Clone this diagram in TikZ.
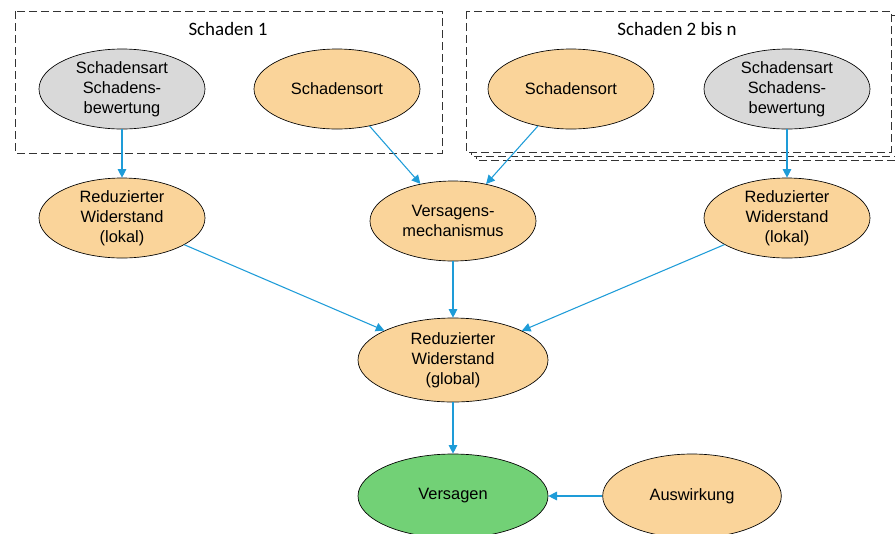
\documentclass[tikz,border=0pt]{standalone}
\usepackage{fontspec}
\setmainfont{Liberation Sans}
\newfontfamily\calib{Carlito}
\usetikzlibrary{shapes.geometric,arrows.meta}
\definecolor{orangefill}{HTML}{FAD49A}
\definecolor{grayfill}{HTML}{D9D9D9}
\definecolor{greenfill}{HTML}{72D176}
\definecolor{arrowblue}{HTML}{1E9CD8}
\tikzset{
  ell/.style={ellipse, draw=black, line width=0.5pt, inner sep=0pt, align=center,
    font=\fontsize{12.3}{15}\selectfont, minimum width=124.5pt, minimum height=60pt},
  orangeell/.style={ell, fill=orangefill},
  grayell/.style={ell, fill=grayfill},
  bigell/.style={minimum width=142.5pt, minimum height=63pt},
  groupbox/.style={draw=black!80, dash pattern=on 6pt off 3pt, line width=0.75pt, fill=white},
  conn/.style={draw=arrowblue, line width=0.8pt, -{Triangle[length=6.5pt,width=6.5pt]}},
  grouplabel/.style={font=\calib\fontsize{14.2}{16}\selectfont, inner sep=0pt}
}
\begin{document}
\begin{tikzpicture}[x=0.75pt,y=-0.75pt]
\useasboundingbox (0,0) rectangle (895,533);
\clip (0,0) rectangle (895,533);
% group boxes
\draw[groupbox] (15,11) rectangle (442,153);
\draw[groupbox] (476,19) rectangle (901,160);
\draw[groupbox] (471,15) rectangle (896,156);
\draw[groupbox] (466,11) rectangle (891,152);
\node[grouplabel] (g1) at (228,29) {Schaden 1};
\node[grouplabel] (g2) at (677,29) {Schaden 2 bis n};
% nodes
\node[grayell] (ga1) at (122,89) {Schadensart\\Schadens-\\bewertung};
\node[orangeell] (so1) at (337,89) {Schadensort};
\node[orangeell] (so2) at (571,89) {Schadensort};
\node[grayell] (ga2) at (787,89) {Schadensart\\Schadens-\\bewertung};
\node[orangeell] (lo1) at (122,218) {Reduzierter\\Widerstand\\(lokal)};
\node[orangeell] (vm) at (453,221) {Versagens-\\mechanismus};
\node[orangeell] (lo2) at (787,218) {Reduzierter\\Widerstand\\(lokal)};
\node[orangeell,bigell] (gl) at (453,360) {Reduzierter\\Widerstand\\(global)};
\node[ell,bigell,fill=greenfill] (vs) at (453,496) {Versagen};
\node[orangeell,bigell,minimum width=134pt] (aw) at (692,496) {Auswirkung};
% connectors
\draw[conn] (ga1) -- (lo1);
\draw[conn] (so1) -- (vm);
\draw[conn] (so2) -- (vm);
\draw[conn] (ga2) -- (lo2);
\draw[conn] (lo1) -- (gl);
\draw[conn] (vm) -- (gl);
\draw[conn] (lo2) -- (gl);
\draw[conn] (gl) -- (vs);
\draw[conn] (aw) -- (vs);
\end{tikzpicture}
\end{document}
